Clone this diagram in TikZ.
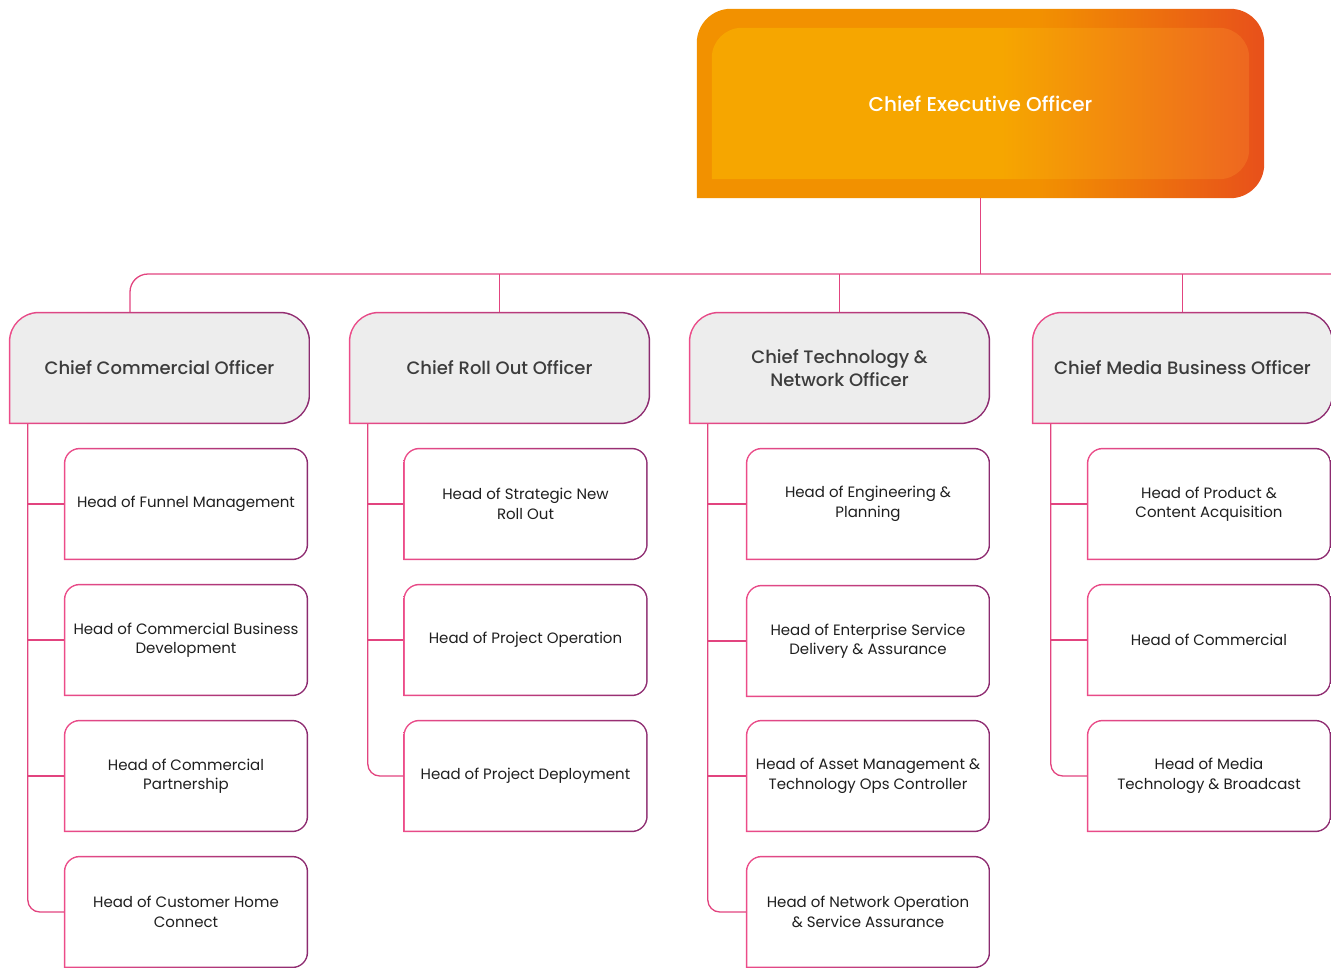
\documentclass[tikz,border=0pt]{standalone}
\usepackage{fontspec}
\setmainfont{Poppins}[BoldFont={Poppins Medium}]
\usetikzlibrary{backgrounds}

\definecolor{linkpink}{HTML}{E2447F}
\definecolor{rimL}{HTML}{EC4C89}
\definecolor{rimR}{HTML}{8C2B70}
\definecolor{chieffill}{HTML}{EDEDED}
\definecolor{chieftext}{HTML}{3C3C3C}
\definecolor{headtext}{HTML}{1F1F1F}
\definecolor{ceoA}{HTML}{F29100}
\definecolor{ceoB}{HTML}{E8501B}
\definecolor{ceoC}{HTML}{F6A600}
\definecolor{ceoD}{HTML}{EE6720}

\pgfdeclarehorizontalshading{ceoouter}{100bp}{color(0bp)=(ceoA); color(25bp)=(ceoA); color(55bp)=(ceoA); color(75bp)=(ceoB); color(100bp)=(ceoB)}
\pgfdeclarehorizontalshading{ceoinner}{100bp}{color(0bp)=(ceoC); color(25bp)=(ceoC); color(52bp)=(ceoC); color(75bp)=(ceoD); color(100bp)=(ceoD)}

% box outline: sharp lower left corner, the other three rounded
% #1 node, #2 radius, #3 x inset, #4 y inset
\newcommand\tabpath[4]{%
  ([shift={(#3,#4)}]#1.south west)
  -- ([shift={(#3,-#4-#2)}]#1.north west)
  arc[start angle=180,end angle=90,radius=#2]
  -- ([shift={(-#3-#2,-#4)}]#1.north east)
  arc[start angle=90,end angle=0,radius=#2]
  -- ([shift={(-#3,#4+#2)}]#1.south east)
  arc[start angle=0,end angle=-90,radius=#2]
  -- cycle}

\tikzset{
  link/.style={draw=linkpink,line width=1.3pt},
  rim/.style={left color=rimL,right color=rimR},
  ceobox/.style={minimum width=567pt,minimum height=189pt,inner sep=0pt,
    text=white,font=\fontsize{20}{24}\selectfont\bfseries},
  chief/.style={minimum width=301pt,minimum height=112pt,inner sep=0pt,align=center,
    text=chieftext,font=\fontsize{18}{23}\selectfont\bfseries},
  head/.style={minimum width=244pt,minimum height=112pt,inner sep=0pt,align=center,
    text=headtext,font=\fontsize{15}{19.5}\selectfont}
}

\begin{document}
\begin{tikzpicture}[x=1pt,y=1pt]
    \useasboundingbox (0,0) rectangle (1331,-967);

    \node[ceobox] (ceo) at (980.5,-103.5) {Chief Executive Officer};

    \node[chief] (cco)  at (159.5,-368)  {Chief Commercial Officer};
    \node[chief] (croo) at (499.5,-368)  {Chief Roll Out Officer};
    \node[chief] (ctno) at (839.5,-368)  {Chief Technology \&\\Network Officer};
    \node[chief] (cmbo) at (1182.5,-368) {Chief Media Business Officer};

    \node[head] (funnel)   at (186,-504) {Head of Funnel Management};
    \node[head] (combiz)   at (186,-640) {Head of Commercial Business\\Development};
    \node[head] (compart)  at (186,-776) {Head of Commercial\\Partnership};
    \node[head] (custhome) at (186,-912) {Head of Customer Home\\Connect};

    \node[head] (strategic) at (525.5,-504) {Head of Strategic New\\Roll Out};
    \node[head] (projop)    at (525.5,-640) {Head of Project Operation};
    \node[head] (projdep)   at (525.5,-776) {Head of Project Deployment};

    \node[head] (engplan)    at (868,-504) {Head of Engineering \&\\Planning};
    \node[head] (enterprise) at (868,-641) {Head of Enterprise Service\\Delivery \& Assurance};
    \node[head] (asset)      at (868,-776) {Head of Asset Management \&\\Technology Ops Controller};
    \node[head] (netop)      at (868,-912) {Head of Network Operation\\\& Service Assurance};

    \node[head] (product)    at (1209,-504) {Head of Product \&\\Content Acquisition};
    \node[head] (commercial) at (1209,-640) {Head of Commercial};
    \node[head] (media)      at (1209,-776) {Head of Media\\Technology \& Broadcast};

    \begin{pgfonlayer}{background}
      \shade[shading=ceoouter] \tabpath{ceo}{34pt}{0pt}{0pt};
      \shade[shading=ceoinner] \tabpath{ceo}{30pt}{15pt}{19pt};
      \foreach \n in {cco,croo,ctno,cmbo} {
        \shade[rim] \tabpath{\n}{30pt}{0pt}{0pt};
        \fill[chieffill] \tabpath{\n}{28.5pt}{1.5pt}{1.5pt};
      }
      \foreach \n in {funnel,combiz,compart,custhome,strategic,projop,projdep,
                      engplan,enterprise,asset,netop,product,commercial,media} {
        \shade[rim] \tabpath{\n}{16pt}{0pt}{0pt};
        \fill[white] \tabpath{\n}{14.5pt}{1.5pt}{1.5pt};
      }
    \end{pgfonlayer}

    % ceo to the chiefs
    \coordinate (busend) at (1331,-274);
    \draw[link] (ceo.south) -- (ceo.south |- busend);
    \draw[link,rounded corners=18pt] ([xshift=-29.5pt]cco.north) |- (busend);
    \draw[link] (croo.north) -- (croo.north |- busend);
    \draw[link] (ctno.north) -- (ctno.north |- busend);
    \draw[link] (cmbo.north) -- (cmbo.north |- busend);

    % chiefs to their heads
    \foreach \h in {funnel,combiz,compart}
      \draw[link] ([xshift=19pt]cco.south west) |- (\h.west);
    \draw[link,rounded corners=12pt] ([xshift=19pt]cco.south west) |- (custhome.west);

    \foreach \h in {strategic,projop}
      \draw[link] ([xshift=19pt]croo.south west) |- (\h.west);
    \draw[link,rounded corners=12pt] ([xshift=19pt]croo.south west) |- (projdep.west);

    \foreach \h in {engplan,enterprise,asset}
      \draw[link] ([xshift=19pt]ctno.south west) |- (\h.west);
    \draw[link,rounded corners=12pt] ([xshift=19pt]ctno.south west) |- (netop.west);

    \foreach \h in {product,commercial}
      \draw[link] ([xshift=19pt]cmbo.south west) |- (\h.west);
    \draw[link,rounded corners=12pt] ([xshift=19pt]cmbo.south west) |- (media.west);
\end{tikzpicture}
\end{document}
